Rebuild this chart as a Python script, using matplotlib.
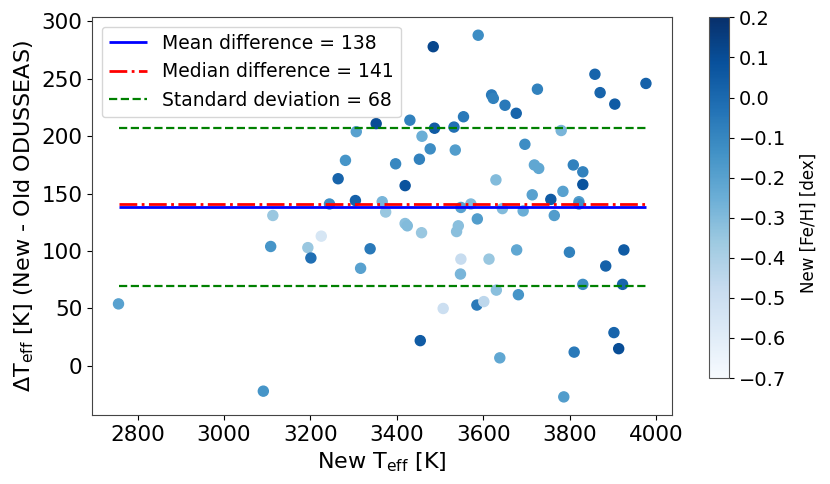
import numpy as np
import matplotlib
matplotlib.use('Agg')
import matplotlib.pyplot as plt

# new Teff [K]
teff_new = [2756, 3091, 3108, 3113, 3194, 3201, 3225, 3244, 3264, 3281,
            3304, 3306, 3316, 3338, 3352, 3366, 3374, 3397, 3419, 3419,
            3424, 3430, 3452, 3454, 3457, 3458, 3477, 3487, 3484, 3507,
            3532, 3535, 3538, 3542, 3547, 3548, 3548, 3554, 3571, 3588,
            3585, 3601, 3613, 3619, 3623, 3629, 3630, 3638, 3644, 3650,
            3586, 3676, 3677, 3681, 3692, 3696, 3713, 3718, 3728, 3725,
            3756, 3764, 3780, 3784, 3786, 3799, 3808, 3810, 3821, 3821,
            3830, 3830, 3830, 3858, 3870, 3883, 3904, 3902, 3913, 3925,
            3922, 3976]
# new - old Teff [K]
dteff = [54, -22, 104, 131, 103, 94, 113, 141, 163, 179,
         144, 204, 85, 102, 211, 143, 134, 176, 157, 124,
         122, 214, 180, 22, 116, 200, 189, 207, 278, 50,
         208, 188, 117, 122, 80, 93, 138, 217, 141, 288,
         53, 56, 93, 236, 233, 162, 66, 7, 137, 227,
         128, 220, 101, 62, 135, 193, 149, 175, 172, 241,
         145, 131, 205, 152, -27, 99, 175, 12, 143, 141,
         169, 158, 71, 254, 238, 87, 228, 29, 15, 101,
         71, 246]
# new [Fe/H] [dex]
feh_new = [-0.20, -0.15, -0.15, -0.35, -0.35, -0.02, -0.55, -0.12, 0.02, -0.15,
           0.03, -0.20, -0.20, -0.05, 0.10, -0.28, -0.35, -0.10, 0.08, -0.32,
           -0.30, -0.08, -0.08, 0.05, -0.35, -0.25, -0.12, 0.05, 0.12, -0.50,
           -0.02, -0.18, -0.32, -0.32, -0.28, -0.48, -0.20, -0.05, -0.30, -0.12,
           -0.05, -0.45, -0.35, -0.05, -0.08, -0.30, -0.32, -0.22, -0.30, -0.05,
           -0.18, 0.02, -0.22, -0.15, -0.25, -0.12, -0.20, -0.22, -0.22, -0.08,
           0.05, -0.18, -0.28, -0.20, -0.18, -0.08, -0.08, -0.05, -0.18, -0.12,
           -0.08, 0.08, -0.12, 0.02, 0.02, 0.03, 0.05, 0.02, 0.10, 0.05,
           0.02, 0.03]

mean_diff = 138.7
median_diff = 141.2
std_diff = 68.9

fig = plt.figure(figsize=(8.3, 4.84), dpi=100)
ax = fig.add_axes([0.111, 0.1426, 0.699, 0.822])
cax = fig.add_axes([0.854, 0.219, 0.024, 0.745])

sc = ax.scatter(teff_new, dteff, c=feh_new, cmap='Blues', vmin=-0.7, vmax=0.2, s=52)

x0, x1 = min(teff_new), max(teff_new)
ax.hlines(mean_diff, x0, x1, colors='blue', linestyles='-', lw=2,
          label='Mean difference = %d' % int(mean_diff))
ax.hlines(median_diff, x0, x1, colors='red', linestyles='-.', lw=2,
          label='Median difference = %d' % int(median_diff))
ax.hlines(mean_diff + std_diff, x0, x1, colors='green', linestyles='--', lw=1.6,
          label='Standard deviation = %d' % int(std_diff))
ax.hlines(mean_diff - std_diff, x0, x1, colors='green', linestyles='--', lw=1.6)

ax.set_xticks([2800, 3000, 3200, 3400, 3600, 3800, 4000])
ax.set_yticks([0, 50, 100, 150, 200, 250, 300])
ax.tick_params(labelsize=15.5)
for sp in ax.spines.values():
    sp.set_color('#444444')
ax.set_xlabel(r'New T$_{\rm eff}$ [K]', fontsize=16)
ax.set_ylabel(r'$\Delta$T$_{\rm eff}$ [K] (New - Old ODUSSEAS)', fontsize=16)
ax.legend(loc='upper left', fontsize=13.5)

cb = fig.colorbar(sc, cax=cax)
cb.set_ticks(np.arange(-0.7, 0.21, 0.1))
cb.ax.tick_params(labelsize=14)
cb.outline.set_edgecolor('#555555')
cb.set_label('New [Fe/H] [dex]', fontsize=12)
cb.ax.yaxis.set_label_coords(4.55, 0.43)

fig.savefig('out.png', dpi=100)
